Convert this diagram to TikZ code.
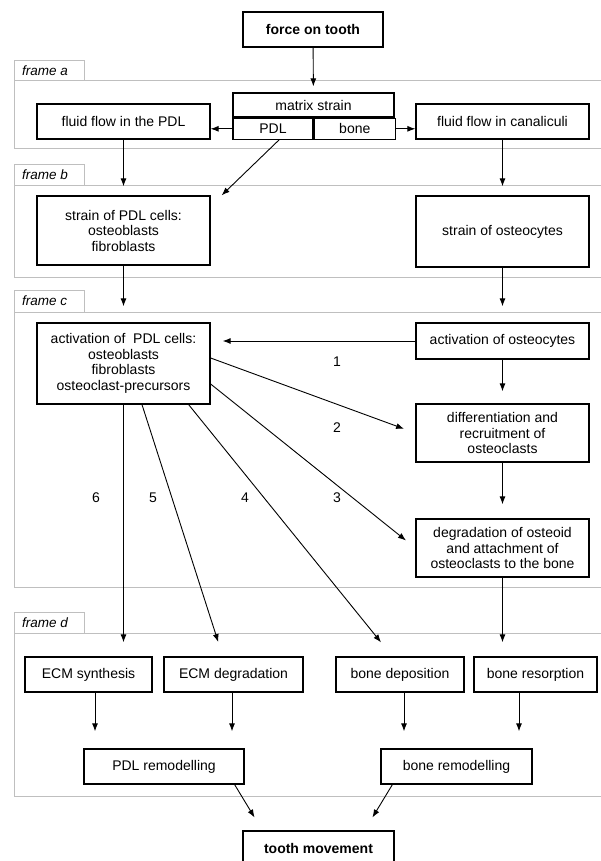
\documentclass[tikz,border=0pt]{standalone}
\usepackage{fontspec}
\setmainfont{Liberation Sans}
\usetikzlibrary{positioning}
\usetikzlibrary{arrows.meta}

\begin{document}
\begin{tikzpicture}[x=1pt,y=-1pt,
    box/.style={draw,line width=1.3pt,align=center,inner sep=0pt,font=\fontsize{14}{15.5}\selectfont},
    wh/.style 2 args={minimum width=#1pt,minimum height=#2pt},
    frm/.style={draw=gray!50,line width=1pt},
    tabtxt/.style={anchor=west,inner sep=0pt,font=\fontsize{13.5}{15}\selectfont\itshape},
    arr/.style={-{Latex[length=8pt,width=6pt]},line width=0.9pt},
    num/.style={font=\fontsize{14}{15}\selectfont}]
    \useasboundingbox (0,0) rectangle (601,861);

    % Draw the frames
    \draw[frm] (14,81) rectangle (612,149);
    \draw[frm] (14,61) rectangle (84,81);
    \node[tabtxt] (fa) at (22,71) {frame a};

    \draw[frm] (14,185) rectangle (612,277);
    \draw[frm] (14,165) rectangle (84,185);
    \node[tabtxt] (fb) at (22,175) {frame b};

    \draw[frm] (14,312) rectangle (612,587);
    \draw[frm] (14,290) rectangle (84,312);
    \node[tabtxt] (fc) at (22,301) {frame c};

    \draw[frm] (14,633) rectangle (612,796);
    \draw[frm] (14,612) rectangle (84,633);
    \node[tabtxt] (fd) at (22,622.5) {frame d};

    % Define the boxes
    \node[box,wh={140}{35},font=\fontsize{14}{15.5}\selectfont\bfseries] (force) at (313,29.5) {force on tooth};
    \node[box,wh={161}{24}] (ms) at (313.5,105) {matrix strain};
    \node[box,wh={80}{21},below right=0pt and 0pt of ms.south west] (pdl) {PDL};
    \node[box,wh={81}{21},right=0pt of pdl] (bone) {bone};
    \node[box,wh={173}{35}] (fluidpdl) at (123.5,121.5) {fluid flow in the PDL};
    \node[box,wh={173}{35}] (canal) at (502.5,121.5) {fluid flow in canaliculi};

    \node[box,wh={173}{69}] (strainpdl) at (123.5,230.5) {strain of PDL cells:\\osteoblasts\\fibroblasts};
    \node[box,wh={173}{71}] (strainost) at (502.5,231.5) {strain of osteocytes};

    \node[box,wh={173}{81}] (actpdl) at (123.5,363.5) {activation of\ \ PDL cells:\\osteoblasts\\fibroblasts\\osteoclast-precursors};
    \node[box,wh={173}{36}] (actost) at (502.5,341) {activation of osteocytes};
    \node[box,wh={173}{58}] (diff) at (502.5,433) {differentiation and\\recruitment of\\osteoclasts};
    \node[box,wh={173}{58}] (degr) at (502.5,548) {degradation of osteoid\\and attachment of\\osteoclasts to the bone};

    \node[box,wh={127}{35}] (ecmsyn) at (88.5,674.5) {ECM synthesis};
    \node[box,wh={139}{35}] (ecmdeg) at (233.5,674.5) {ECM degradation};
    \node[box,wh={128}{35}] (depo) at (400,674.5) {bone deposition};
    \node[box,wh={123}{35}] (resorp) at (535.5,674.5) {bone resorption};
    \node[box,wh={160}{35}] (pdlrem) at (164,766.5) {PDL remodelling};
    \node[box,wh={151}{35}] (bonerem) at (456.5,766.5) {bone remodelling};
    \node[box,wh={151}{35},font=\fontsize{14}{15.5}\selectfont\bfseries] (tooth) at (318.5,848.5) {tooth movement};

    % Draw the arrows
    \draw[arr,shorten >=6pt] (force) -- (ms);
    \draw[arr] (pdl.west) -- (pdl.west -| fluidpdl.east);
    \draw[arr] (bone.east) -- (bone.east -| canal.west);
    \draw[arr,shorten >=9pt] (fluidpdl) -- (strainpdl);
    \draw[arr,shorten >=9pt] (canal) -- (strainost);
    \draw[arr] ([xshift=6pt]pdl.south) -- ([xshift=11pt]strainpdl.north east);

    \draw[arr,shorten >=16pt] (strainpdl) -- (actpdl);
    \draw[arr,shorten >=16pt] (strainost) -- (actost);
    \draw[arr,shorten >=12pt] (actost.west) -- (actost.west -| actpdl.east);
    \draw[arr,shorten >=12pt] (actost) -- (diff);
    \draw[arr,shorten >=12pt] ([yshift=5.5pt]actpdl.east) -- (diff.west);
    \draw[arr,shorten >=12pt] ([yshift=-20.5pt]actpdl.east) -- (degr.west);
    \draw[arr,shorten >=14pt] (diff) -- (degr);
    \draw[arr,shorten >=18pt] ([xshift=-22pt]actpdl.south east) -- ([xshift=57pt]depo.north west);
    \draw[arr,shorten >=15pt] ([xshift=18.5pt]actpdl.south) -- ([xshift=59.5pt]ecmdeg.north west);
    \draw[arr,shorten >=14pt] (actpdl.south) -- (actpdl.south |- ecmsyn.north);
    \draw[arr,shorten >=14pt] (degr.south) -- (degr.south |- resorp.north);

    \draw[arr,shorten >=17pt] ([xshift=6.5pt]ecmsyn.south) -- ([xshift=6.5pt]ecmsyn.south |- pdlrem.north);
    \draw[arr,shorten >=17pt] ([xshift=-1.5pt]ecmdeg.south) -- ([xshift=-1.5pt]ecmdeg.south |- pdlrem.north);
    \draw[arr,shorten >=17pt] ([xshift=4pt]depo.south) -- ([xshift=4pt]depo.south |- bonerem.north);
    \draw[arr,shorten >=17pt] ([xshift=-16.5pt]resorp.south) -- ([xshift=-16.5pt]resorp.south |- bonerem.north);
    \draw[arr,shorten >=15pt] ([xshift=-10pt]pdlrem.south east) -- ([xshift=20pt]tooth.north west);
    \draw[arr,shorten >=15pt] ([xshift=12pt]bonerem.south west) -- ([xshift=-30pt]tooth.north east);

    % Numbers of the pathways
    \foreach \pos/\lab in {(337,362)/1, (337,428)/2, (337,498)/3, (245,498)/4, (153,498)/5, (96,498)/6}
        \node[num] (n\lab) at \pos {\lab};
\end{tikzpicture}
\end{document}
